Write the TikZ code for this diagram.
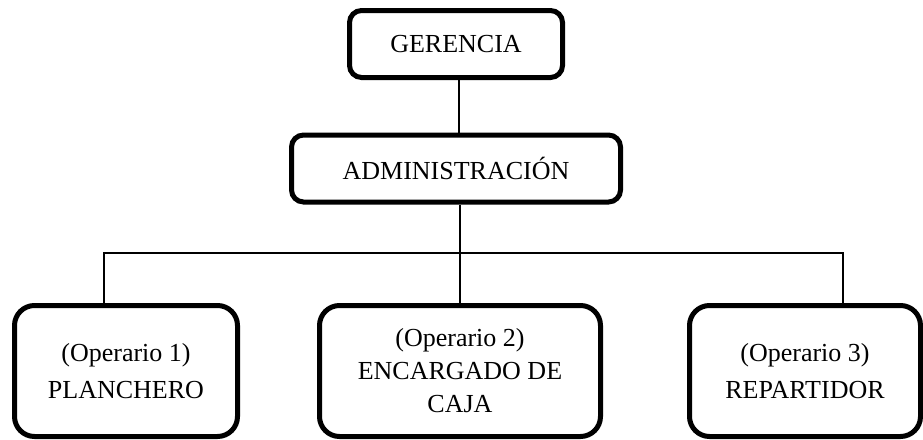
\documentclass[tikz,border=0pt]{standalone}
\usepackage{fontspec}
\setmainfont{Liberation Serif}
\newfontfamily\romana{Liberation Serif}

\begin{document}
\begin{tikzpicture}[x=1pt, y=-1pt,
                    every node/.style={draw, line width=5pt, align=center, inner sep=0pt,
                        font=\romana\fontsize{26}{37}\selectfont},
                    jefe/.style={rounded corners=12pt, minimum height=67pt},
                    operario/.style={rounded corners=20pt, minimum height=131pt},
                    linea/.style={line width=1.5pt}]
                \useasboundingbox (0,0) rectangle (923,439);
                \node[jefe, minimum width=213pt] (ger) at (456,44) {GERENCIA};
                \node[jefe, minimum width=329pt] (adm) at (456,168.5) {ADMINISTRACIÓN};
                \node[operario, minimum width=223pt] (op1) at (126,371) {(Operario 1)\\PLANCHERO};
                \node[operario, minimum width=281pt, font=\romana\fontsize{26}{33}\selectfont] (op2) at (460,371) {(Operario 2)\\ENCARGADO DE\\CAJA};
                \node[operario, minimum width=231pt] (op3) at (805,371) {(Operario 3)\\REPARTIDOR};
                % conectores
                \coordinate (izq) at (104,253);
                \coordinate (der) at (843,253);
                \draw[linea] (ger.south -| 459,0) -- (adm.north -| 459,0);
                \draw[linea] (adm.south -| op2) -- (op2.north);
                \draw[linea] (op1.north -| izq) -- (izq) -- (der) -- (op3.north -| der);
\end{tikzpicture}
\end{document}
